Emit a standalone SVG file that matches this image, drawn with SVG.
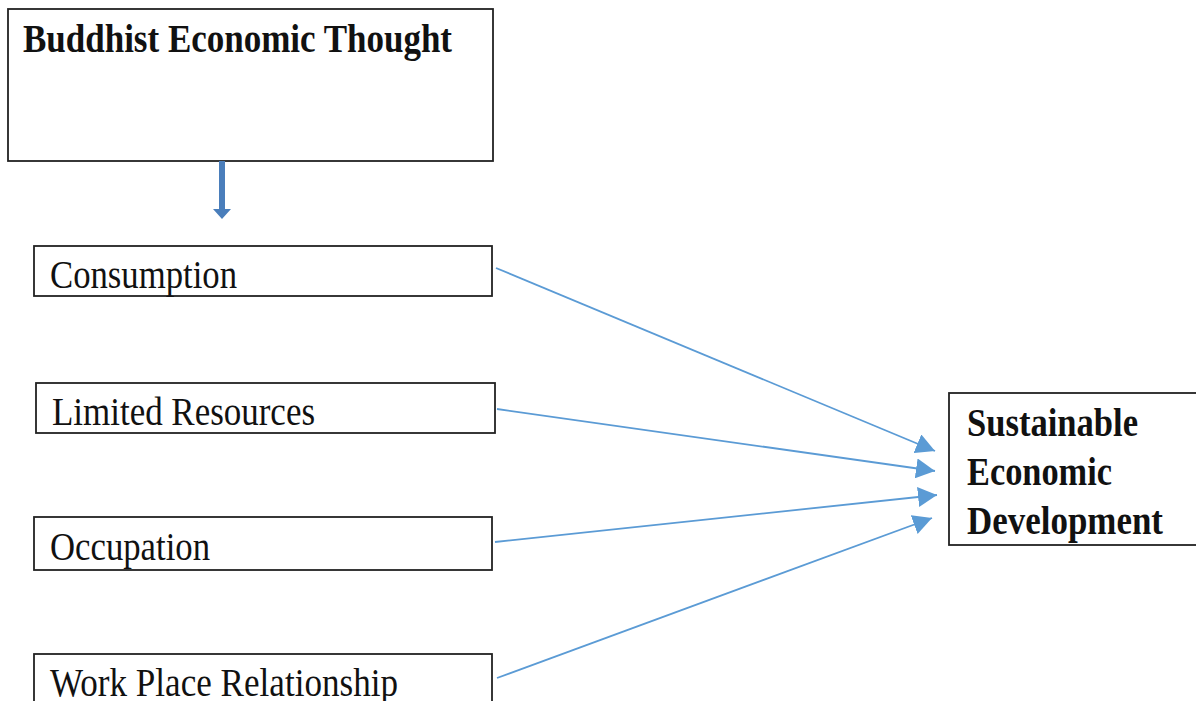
<svg xmlns="http://www.w3.org/2000/svg" width="1196" height="701" viewBox="0 0 1196 701">
<style>
.box{fill:#fff;stroke:#222;stroke-width:1.8}
.t{font-family:"Liberation Serif","Times New Roman",serif;font-size:39px;fill:#111}
.b{font-family:"Liberation Serif","Times New Roman",serif;font-size:40px;font-weight:bold;fill:#111}
.c{stroke:#5B9BD5;stroke-width:1.8;fill:none}
</style>
<defs>
<marker id="ah" markerUnits="userSpaceOnUse" markerWidth="22" markerHeight="20" refX="19" refY="10" orient="auto">
<path d="M0,0 L19,10 L0,20 Z" fill="#5B9BD5"/>
</marker>
</defs>
<rect width="1196" height="701" fill="#fff"/>
<g id="node-buddhist">
<rect class="box" x="8" y="9" width="485" height="152"/>
<text class="b" x="23" y="52" textLength="429" lengthAdjust="spacingAndGlyphs">Buddhist Economic Thought</text>
</g>
<g id="node-consumption">
<rect class="box" x="34" y="246" width="458" height="50"/>
<text class="t" x="50" y="288" textLength="187" lengthAdjust="spacingAndGlyphs">Consumption</text>
</g>
<g id="node-limited">
<rect class="box" x="36" y="383" width="459" height="50"/>
<text class="t" x="52" y="425" textLength="263" lengthAdjust="spacingAndGlyphs">Limited Resources</text>
</g>
<g id="node-occupation">
<rect class="box" x="34" y="517" width="458" height="53"/>
<text class="t" x="50" y="560" textLength="160" lengthAdjust="spacingAndGlyphs">Occupation</text>
</g>
<g id="node-workplace">
<rect class="box" x="34" y="654" width="458" height="60"/>
<text class="t" x="50" y="696" textLength="348" lengthAdjust="spacingAndGlyphs">Work Place Relationship</text>
</g>
<g id="node-sustainable">
<rect class="box" x="949" y="393" width="260" height="152"/>
<text class="b" x="967" y="436" textLength="171" lengthAdjust="spacingAndGlyphs">Sustainable</text>
<text class="b" x="967" y="485" textLength="145" lengthAdjust="spacingAndGlyphs">Economic</text>
<text class="b" x="967" y="534" textLength="196" lengthAdjust="spacingAndGlyphs">Development</text>
</g>
<g id="connectors">
<path d="M219,161 L219,209 L213,209 L222,219 L231,209 L225,209 L225,161 Z" fill="#4A7EBB"/>
<line class="c" x1="496" y1="268" x2="935" y2="451" marker-end="url(#ah)"/>
<line class="c" x1="497" y1="409" x2="935" y2="471" marker-end="url(#ah)"/>
<line class="c" x1="495" y1="542" x2="937" y2="495" marker-end="url(#ah)"/>
<line class="c" x1="497" y1="678" x2="932" y2="518" marker-end="url(#ah)"/>
</g>
</svg>
